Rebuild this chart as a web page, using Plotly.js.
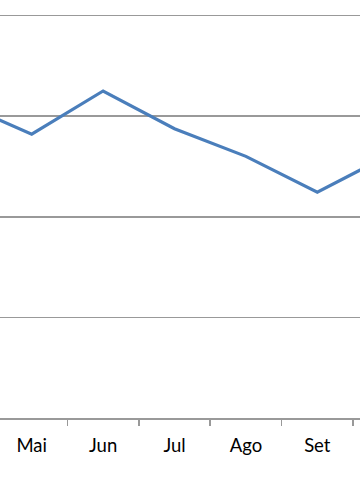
<!DOCTYPE html>
<html><head><meta charset="utf-8">
<script src="https://cdn.plot.ly/plotly-3.0.1.min.js"></script>
<style>html,body{margin:0;padding:0;background:#fff}#c{width:360px;height:504px}</style>
</head><body><div id="c"></div>
<script>
var months = ["Abr","Mai","Jun","Jul","Ago","Set","Out"];
var values = [62.7, 56.4, 65.0, 57.5, 52.0, 44.9, 52.2];
var yTicks = [0, 20, 40, 60, 80];

Plotly.newPlot('c', [{
  x: months, y: values, type: 'scatter', mode: 'lines',
  line: {color: '#4a7ebb', width: 3.2}, hoverinfo: 'skip'
}], {
  width: 360, height: 504,
  margin: {l: 0, r: 0, t: 0, b: 86.3},
  paper_bgcolor: '#fff', plot_bgcolor: '#fff',
  showlegend: false,
  xaxis: {type: 'category', range: [0.556, 5.598], tickson: 'boundaries',
    ticks: 'outside', ticklen: 6, tickcolor: '#999', tickwidth: 1.5,
    showline: true, linecolor: '#999', linewidth: 1.6, showgrid: false,
    tickfont: {family: 'Lato, sans-serif', size: 18.5, color: '#000'},
    ticklabelstandoff: 10},
  yaxis: {range: [0, 83.08], tickvals: yTicks, showticklabels: false,
    showgrid: true, gridcolor: '#999', gridwidth: 1.6, zeroline: false,
    showline: false}
}, {displayModeBar: false, staticPlot: true});
</script></body></html>
